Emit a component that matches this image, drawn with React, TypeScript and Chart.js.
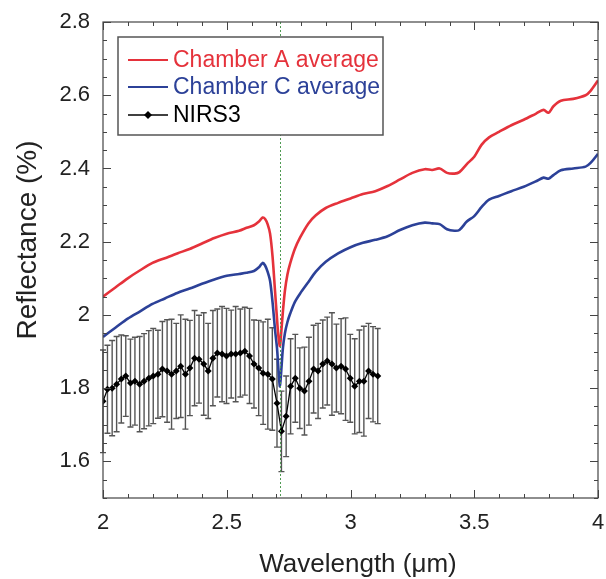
import React, { useEffect, useRef } from "react";
import { Chart, registerables } from "chart.js";

Chart.register(...registerables);

// ---------- data ----------
const labWavelength = [
  2.0, 2.05, 2.1, 2.15, 2.2, 2.25, 2.3, 2.35, 2.4, 2.45, 2.5, 2.55, 2.58, 2.61, 2.63,
  2.645, 2.655, 2.665, 2.675, 2.685, 2.695, 2.703, 2.709, 2.715, 2.721, 2.727, 2.735,
  2.745, 2.756, 2.775, 2.796, 2.83, 2.86, 2.9, 2.95, 3.0, 3.05, 3.1, 3.15, 3.2, 3.25,
  3.3, 3.33, 3.36, 3.39, 3.42, 3.44, 3.47, 3.5, 3.53, 3.56, 3.6, 3.65, 3.7, 3.75, 3.78,
  3.8, 3.82, 3.85, 3.9, 3.95, 3.97, 4.0,
];
const chamberA = [
  2.05, 2.075, 2.1, 2.122, 2.142, 2.155, 2.168, 2.18, 2.195, 2.21, 2.222, 2.23, 2.238,
  2.245, 2.255, 2.266, 2.262, 2.248, 2.222, 2.16, 2.066, 1.99, 1.94, 1.915, 1.96, 2.01,
  2.066, 2.11, 2.14, 2.18, 2.211, 2.25, 2.272, 2.292, 2.306, 2.318, 2.33, 2.338, 2.352,
  2.37, 2.388, 2.398, 2.396, 2.4, 2.388, 2.386, 2.39, 2.412, 2.432, 2.465, 2.485, 2.5,
  2.518, 2.533, 2.55, 2.56, 2.552, 2.57, 2.585, 2.59, 2.6, 2.612, 2.64,
];
const chamberC = [
  1.94, 1.965, 1.99, 2.01, 2.03, 2.045, 2.06, 2.072, 2.085, 2.097, 2.107, 2.112, 2.115,
  2.12, 2.13, 2.142, 2.135, 2.118, 2.093, 2.035, 1.96, 1.91, 1.85, 1.805, 1.855, 1.91,
  1.95, 1.98, 2.003, 2.035, 2.058, 2.09, 2.118, 2.145, 2.168, 2.185, 2.197, 2.205, 2.215,
  2.232, 2.245, 2.252, 2.25, 2.248, 2.234, 2.23, 2.232, 2.255, 2.27, 2.295, 2.315, 2.325,
  2.338, 2.35, 2.365, 2.375, 2.372, 2.382, 2.395, 2.4, 2.405, 2.415, 2.44,
];

const nirsWavelength = [
  2.0, 2.018, 2.037, 2.055, 2.074, 2.092, 2.111, 2.129, 2.148, 2.166, 2.185, 2.203, 2.222,
  2.24, 2.259, 2.277, 2.296, 2.314, 2.333, 2.351, 2.37, 2.388, 2.407, 2.425, 2.444, 2.462,
  2.481, 2.499, 2.518, 2.536, 2.555, 2.573, 2.592, 2.61, 2.629, 2.647, 2.666, 2.684, 2.703,
  2.721, 2.74, 2.758, 2.777, 2.795, 2.814, 2.832, 2.851, 2.869, 2.888, 2.906, 2.925, 2.943,
  2.962, 2.98, 2.999, 3.017, 3.036, 3.054, 3.073, 3.091, 3.11,
];
const nirsReflectance = [
  1.764, 1.797, 1.8, 1.811, 1.825, 1.833, 1.814, 1.819, 1.811, 1.819, 1.827, 1.833, 1.838,
  1.852, 1.847, 1.838, 1.847, 1.86, 1.838, 1.855, 1.882, 1.879, 1.866, 1.847, 1.882, 1.896,
  1.893, 1.888, 1.893, 1.893, 1.896, 1.901, 1.888, 1.866, 1.855, 1.841, 1.838, 1.825, 1.759,
  1.682, 1.723, 1.805, 1.827, 1.8, 1.792, 1.819, 1.852, 1.847, 1.866, 1.874, 1.866, 1.855,
  1.86, 1.852, 1.827, 1.805, 1.819, 1.819, 1.847, 1.838, 1.833,
];
const nirsError = [
  0.14, 0.12, 0.13, 0.13, 0.12, 0.11, 0.12, 0.12, 0.13, 0.13, 0.13, 0.13, 0.12, 0.13, 0.14,
  0.15, 0.13, 0.14, 0.15, 0.13, 0.13, 0.12, 0.14, 0.13, 0.13, 0.12, 0.13, 0.13, 0.12, 0.13,
  0.12, 0.12, 0.13, 0.12, 0.13, 0.14, 0.15, 0.14, 0.12, 0.11, 0.11, 0.13, 0.12, 0.11, 0.12,
  0.12, 0.12, 0.13, 0.12, 0.12, 0.14, 0.12, 0.13, 0.14, 0.12, 0.13, 0.14, 0.15, 0.13, 0.13,
  0.13,
];

const absorptionBand = 2.715;
const xTickValues = [2, 2.5, 3, 3.5, 4];
const yTickValues = [1.6, 1.8, 2, 2.2, 2.4, 2.6, 2.8];
const legendLabels = ["Chamber A average", "Chamber C average", "NIRS3"];
const xTitle = "Wavelength (\u03bcm)";
const yTitle = "Reflectance (%)";

const RED = "#e5323b";
const BLUE = "#2c4198";
const FONT = "'Liberation Sans', Arial, Helvetica, sans-serif";

const decorPlugin = {
  id: "decor",
  beforeDatasetsDraw(chart: any) {
    const { ctx, scales } = chart;
    const xs = scales.x;
    const ys = scales.y;
    ctx.save();
    ctx.strokeStyle = "#555";
    ctx.lineWidth = 1.4;
    for (let i = 0; i < nirsWavelength.length; i++) {
      const x = xs.getPixelForValue(nirsWavelength[i]);
      const yt = ys.getPixelForValue(nirsReflectance[i] + nirsError[i]);
      const yb = ys.getPixelForValue(nirsReflectance[i] - nirsError[i]);
      ctx.beginPath();
      ctx.moveTo(x, yt);
      ctx.lineTo(x, yb);
      ctx.moveTo(x - 3, yt);
      ctx.lineTo(x + 3, yt);
      ctx.moveTo(x - 3, yb);
      ctx.lineTo(x + 3, yb);
      ctx.stroke();
    }
    ctx.restore();
  },
  afterDatasetsDraw(chart: any) {
    const { ctx, scales, chartArea } = chart;
    const xs = scales.x;
    const ys = scales.y;
    const { left, right, top, bottom } = chartArea;
    ctx.save();
    // absorption marker line
    const gx = Math.round(xs.getPixelForValue(absorptionBand)) + 0.5;
    ctx.strokeStyle = "#4f9a52";
    ctx.lineWidth = 1;
    ctx.setLineDash([2, 2]);
    ctx.beginPath();
    ctx.moveTo(gx, top);
    ctx.lineTo(gx, bottom);
    ctx.stroke();
    ctx.setLineDash([]);

    // frame
    ctx.strokeStyle = "#444";
    ctx.lineWidth = 1.2;
    ctx.strokeRect(left, top, right - left, bottom - top);

    // inward ticks
    ctx.lineWidth = 1;
    ctx.beginPath();
    for (let k = 0; k <= 20; k++) {
      const v = 2 + k * 0.1;
      const x = Math.round(xs.getPixelForValue(v)) + 0.5;
      const len = k % 5 === 0 ? 8 : 4;
      ctx.moveTo(x, bottom);
      ctx.lineTo(x, bottom - len);
      ctx.moveTo(x, top);
      ctx.lineTo(x, top + len);
    }
    for (let k = 0; k <= 26; k++) {
      const v = 1.5 + k * 0.05;
      const y = Math.round(ys.getPixelForValue(v)) + 0.5;
      const len = (k - 2) % 4 === 0 ? 8 : 4;
      ctx.moveTo(left, y);
      ctx.lineTo(left + len, y);
      ctx.moveTo(right, y);
      ctx.lineTo(right - len, y);
    }
    ctx.stroke();

    // axis titles
    ctx.fillStyle = "#222";
    ctx.textAlign = "center";
    ctx.textBaseline = "middle";
    ctx.font = `26px ${FONT}`;
    ctx.fillText(xTitle, 358, 565);
    ctx.save();
    ctx.translate(28, 240);
    ctx.rotate(-Math.PI / 2);
    ctx.font = `28px ${FONT}`;
    ctx.fillText(yTitle, 0, 0);
    ctx.restore();

    // legend
    const bx = 118, by = 37, bw = 265, bh = 98;
    ctx.fillStyle = "#fff";
    ctx.fillRect(bx, by, bw, bh);
    ctx.strokeStyle = "#555";
    ctx.lineWidth = 1.5;
    ctx.strokeRect(bx, by, bw, bh);
    const rows = [60, 87, 115];
    const colors = [RED, BLUE, "#000"];
    ctx.font = `23px ${FONT}`;
    ctx.textBaseline = "middle";
    ctx.textAlign = "left";
    for (let r = 0; r < 3; r++) {
      ctx.strokeStyle = colors[r];
      ctx.lineWidth = r === 2 ? 1.3 : 2;
      ctx.beginPath();
      ctx.moveTo(128, rows[r]);
      ctx.lineTo(168, rows[r]);
      ctx.stroke();
      if (r === 2) {
        ctx.fillStyle = "#000";
        ctx.beginPath();
        ctx.moveTo(148, rows[r] - 4);
        ctx.lineTo(152, rows[r]);
        ctx.lineTo(148, rows[r] + 4);
        ctx.lineTo(144, rows[r]);
        ctx.closePath();
        ctx.fill();
      }
      ctx.fillStyle = colors[r];
      ctx.fillText(legendLabels[r], 173, rows[r] + 1);
    }
    ctx.restore();
  },
};

export default function App() {
  const ref = useRef<HTMLCanvasElement | null>(null);

  useEffect(() => {
    if (!ref.current) return;
    const chart = new Chart(ref.current, {
      type: "line",
      data: {
        datasets: [
          {
            label: legendLabels[0],
            data: labWavelength.map((x, i) => ({ x, y: chamberA[i] })),
            borderColor: RED,
            borderWidth: 2.6,
            pointRadius: 0,
            tension: 0.3,
            order: 0,
          },
          {
            label: legendLabels[1],
            data: labWavelength.map((x, i) => ({ x, y: chamberC[i] })),
            borderColor: BLUE,
            borderWidth: 2.6,
            pointRadius: 0,
            tension: 0.3,
            order: 1,
          },
          {
            label: legendLabels[2],
            data: nirsWavelength.map((x, i) => ({ x, y: nirsReflectance[i] })),
            borderColor: "#000",
            backgroundColor: "#000",
            borderWidth: 1.3,
            pointStyle: "rectRot",
            pointRadius: 3.5,
            pointBorderWidth: 0,
            order: 2,
          },
        ],
      },
      options: {
        responsive: false,
        animation: false,
        layout: { padding: { top: 22, right: 8, left: 0, bottom: 0 } },
        plugins: {
          legend: { display: false },
          tooltip: { enabled: false },
        },
        scales: {
          x: {
            type: "linear",
            min: 2,
            max: 4,
            grid: { display: false, drawTicks: false },
            border: { display: false },
            afterBuildTicks: (s: any) => {
              s.ticks = xTickValues.map((v) => ({ value: v }));
            },
            afterFit: (s: any) => {
              s.height = 81;
              s.paddingLeft = 0;
              s.paddingRight = 0;
            },
            ticks: {
              color: "#222",
              font: { family: FONT, size: 22 },
              padding: 12,
              maxRotation: 0,
              callback: (v: any) => String(Math.round(Number(v) * 10) / 10),
            },
            title: { display: false },
          },
          y: {
            type: "linear",
            min: 1.5,
            max: 2.8,
            grid: { display: false, drawTicks: false },
            border: { display: false },
            afterBuildTicks: (s: any) => {
              s.ticks = yTickValues.map((v) => ({ value: v }));
            },
            afterFit: (s: any) => {
              s.width = 103;
              s.paddingTop = 0;
              s.paddingBottom = 0;
            },
            ticks: {
              color: "#222",
              font: { family: FONT, size: 22 },
              padding: 13,
              callback: (v: any) => String(Math.round(Number(v) * 10) / 10),
            },
            title: { display: false },
          },
        },
      },
      plugins: [decorPlugin],
    });
    return () => chart.destroy();
  }, []);

  return (
    <div style={{ position: "absolute", left: 0, top: 0, width: 606, height: 579, background: "#fff" }}>
      <canvas ref={ref} width={606} height={579} style={{ display: "block" }} />
    </div>
  );
}
